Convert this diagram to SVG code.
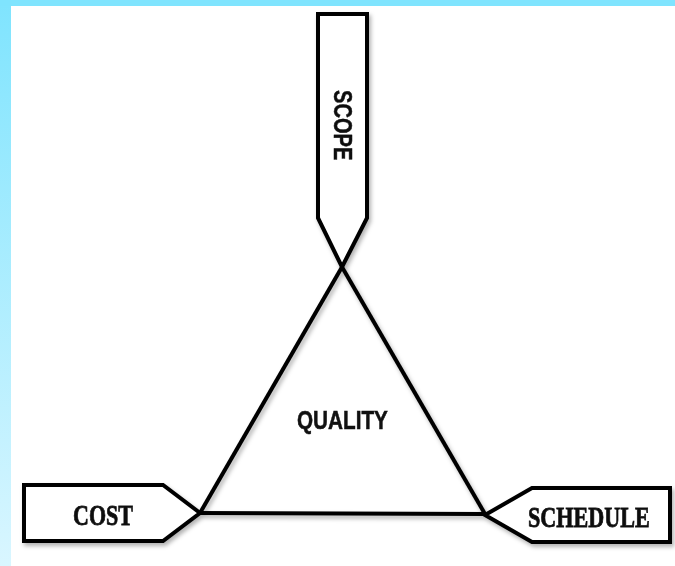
<svg xmlns="http://www.w3.org/2000/svg" width="675" height="566" viewBox="0 0 675 566">
  <defs>
    <linearGradient id="band" x1="0" y1="0" x2="0" y2="1">
      <stop offset="0" stop-color="#7FE4FE"/>
      <stop offset="1" stop-color="#D9F6FF"/>
    </linearGradient>
    <filter id="shadow" x="-10%" y="-10%" width="130%" height="130%">
      <feDropShadow dx="2" dy="3" stdDeviation="2" flood-color="#000" flood-opacity="0.3"/>
    </filter>
    <style>
      .shape { fill: #ffffff; stroke: #000000; stroke-width: 4; stroke-linejoin: miter; }
      .line { fill: none; stroke: #000000; stroke-width: 4; stroke-linecap: butt; }
      .serif { font-family: "Liberation Serif", "DejaVu Serif", serif; font-weight: bold; font-size: 30px; fill: #111; stroke: #111; stroke-width: 0.8; }
      .sans { font-family: "Liberation Sans", Arial, sans-serif; font-weight: bold; font-size: 25px; fill: #111; stroke: #111; stroke-width: 0.5; }
    </style>
  </defs>

  <!-- background -->
  <rect x="0" y="0" width="675" height="566" fill="#ffffff"/>
  <rect x="0" y="0" width="11" height="566" fill="url(#band)"/>
  <rect x="0" y="0" width="675" height="6" fill="#7FE4FE"/>

  <g filter="url(#shadow)">
    <g id="connectors">
      <line class="line" x1="342" y1="267" x2="200" y2="513"/>
      <line class="line" x1="342" y1="267" x2="485" y2="514"/>
      <line class="line" x1="200" y1="513" x2="485" y2="514"/>
    </g>

    <g id="scope">
      <polygon class="shape" points="318,14 367,14 367,218 342,267 318,218"/>
      <text class="sans" transform="translate(334,90) rotate(90) scale(0.804,1)" x="0" y="0" font-size="27">SCOPE</text>
    </g>

    <g id="cost">
      <polygon class="shape" points="24,485 163,485 200,513 163,541 24,541"/>
      <text class="serif" transform="translate(73,525) scale(0.734,1)" x="0" y="0">COST</text>
    </g>

    <g id="schedule">
      <polygon class="shape" points="485,515 532,488 670,488 670,542 532,542"/>
      <text class="serif" transform="translate(528,527) scale(0.7375,1)" x="0" y="0" font-size="29">SCHEDULE</text>
    </g>
  </g>

  <g id="quality">
    <text class="sans" transform="translate(297,429) scale(0.829,1)" x="0" y="0">QUALITY</text>
  </g>
</svg>
